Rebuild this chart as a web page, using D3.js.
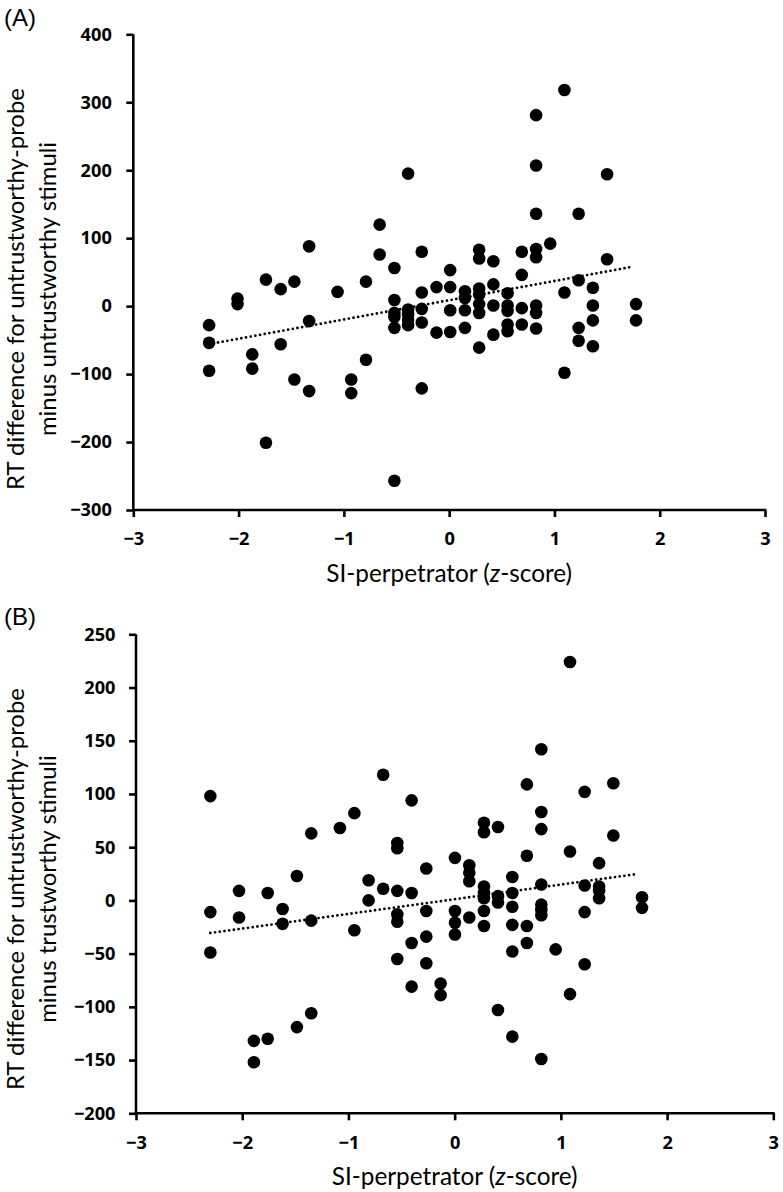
<!DOCTYPE html>
<html>
<head>
<meta charset="utf-8">
<script src="https://cdn.jsdelivr.net/npm/d3@7"></script>
<style>
  html, body { margin: 0; padding: 0; background: #fff; }
  svg { display: block; }
</style>
</head>
<body>
<svg id="chart" width="783" height="1192"></svg>
<script>
// ---------------- DATA ----------------
// Panel A: SI-perpetrator z-score vs RT difference (untrustworthy-probe minus untrustworthy stimuli)
const xA = [
  -2.28,-2.28,-2.28,
  -2.01,-2.01,
  -1.87,-1.87,
  -1.74,-1.74,
  -1.60,-1.60,
  -1.47,-1.47,
  -1.33,-1.33,-1.33,
  -1.06,
  -0.93,-0.93,
  -0.79,-0.79,
  -0.66,-0.66,
  -0.52,-0.52,-0.52,-0.52,-0.52,-0.52,
  -0.39,-0.39,-0.39,-0.39,-0.39,
  -0.26,-0.26,-0.26,-0.26,-0.26,
  -0.12,-0.12,
  0.01,0.01,0.01,0.01,
  0.15,0.15,0.15,0.15,
  0.285,0.285,0.285,0.285,0.285,0.285,0.285,
  0.42,0.42,0.42,0.42,
  0.555,0.555,0.555,0.555,0.555,
  0.69,0.69,0.69,0.69,
  0.826,0.826,0.826,0.826,0.826,0.826,0.826,0.826,
  0.96,
  1.095,1.095,1.095,
  1.23,1.23,1.23,1.23,
  1.365,1.365,1.365,1.365,
  1.50,1.50,
  1.775,1.775
];
const yA = [
  -28,-54,-95,
  11,3,
  -71,-92,
  39,-201,
  25,-56,
  36,-108,
  88,-22,-125,
  21,
  -108,-128,
  36,-79,
  120,76,
  56,9,-10,-16,-32,-257,
  195,-5,-12,-20,-28,
  80,20,-4,-24,-121,
  28,-39,
  53,28,-6,-38,
  22,12,-6,-32,
  83,70,26,17,3,-10,-61,
  66,32,1,-42,
  19,1,-7,-27,-37,
  80,46,-3,-27,
  281,207,136,84,72,1,-10,-33,
  92,
  318,20,-98,
  136,38,-32,-51,
  27,1,-21,-59,
  194,69,
  3,-21
];
// Panel B: SI-perpetrator z-score vs RT difference (untrustworthy-probe minus trustworthy stimuli)
const xB = [
  -2.30,-2.30,-2.30,
  -2.03,-2.03,
  -1.89,-1.89,
  -1.76,-1.76,
  -1.62,-1.62,
  -1.485,-1.485,
  -1.35,-1.35,-1.35,
  -1.08,
  -0.944,-0.944,
  -0.81,-0.81,
  -0.673,-0.673,
  -0.54,-0.54,-0.54,-0.54,-0.54,-0.54,
  -0.405,-0.405,-0.405,-0.405,
  -0.267,-0.267,-0.267,-0.267,
  -0.132,-0.132,
  0.003,0.003,0.003,0.003,
  0.138,0.138,0.138,0.138,
  0.276,0.276,0.276,0.276,0.276,0.276,0.276,
  0.408,0.408,0.408,0.408,
  0.543,0.543,0.543,0.543,0.543,0.543,
  0.68,0.68,0.68,0.68,
  0.816,0.816,0.816,0.816,0.816,0.816,0.816,0.816,
  0.951,
  1.086,1.086,1.086,
  1.224,1.224,1.224,1.224,
  1.36,1.36,1.36,1.36,
  1.494,1.494,
  1.764,1.764
];
const yB = [
  98,-11,-49,
  9,-16,
  -132,-152,
  7,-130,
  -8,-22,
  23,-119,
  63,-19,-106,
  68,
  82,-28,
  19,0,
  118,11,
  54,49,9,-13,-20,-55,
  94,7,-40,-81,
  30,-10,-34,-59,
  -78,-89,
  40,-10,-21,-32,
  33,26,18,-16,
  73,64,13,7,2,-10,-24,
  69,4,-2,-103,
  22,7,-6,-23,-48,-128,
  109,42,-24,-40,
  142,83,67,15,-4,-9,-14,-149,
  -46,
  224,46,-88,
  102,14,-11,-60,
  35,13,9,2,
  110,61,
  3,-7
];
// Linear trend lines (endpoints)
const trendAx = [-2.24, 1.74];
const trendAy = [-54.8, 57.9];
const trendBx = [-2.30, 1.72];
const trendBy = [-30.6, 24.8];

// Tick labels
const xTicks = [-3, -2, -1, 0, 1, 2, 3];
const yTicksA = [-300, -200, -100, 0, 100, 200, 300, 400];
const yTicksB = [-200, -150, -100, -50, 0, 50, 100, 150, 200, 250];

// Text
const panelLabels = ["(A)", "(B)"];
const xTitle = ["SI-perpetrator (", "z", "-score)"];
const yTitleA = ["RT difference for untrustworthy-probe", "minus untrustworthy stimuli"];
const yTitleB = ["RT difference for untrustworthy-probe", "minus trustworthy stimuli"];

// ---------------- DRAW ----------------
const svg = d3.select("#chart");
svg.append("rect").attr("width", 783).attr("height", 1192).attr("fill", "#fff");

const fmt = d => (d < 0 ? "\u2212" + Math.abs(d) : String(d));
const tickFont = "'Open Sans', 'DejaVu Sans', sans-serif";
const titleFont = "Lato, 'Open Sans', sans-serif";

function fitFont(textSel, target, base) {
  const w = textSel.node().getComputedTextLength();
  const fs = base * target / w;
  textSel.attr("font-size", fs);
  return fs;
}

function drawPanel(cfg) {
  const x = d3.scaleLinear().domain([-3, 3]).range(cfg.xRange);
  const y = d3.scaleLinear().domain(cfg.yDomain).range(cfg.yRange);
  const g = svg.append("g");

  // axes
  const ax = g.append("g")
    .attr("transform", `translate(0,${cfg.yRange[0]})`)
    .call(d3.axisBottom(x).tickValues(xTicks).tickFormat(fmt)
      .tickSize(7).tickSizeOuter(0).tickPadding(cfg.xPad));
  const ay = g.append("g")
    .attr("transform", `translate(${cfg.xRange[0]},0)`)
    .call(d3.axisLeft(y).tickValues(cfg.yTicks).tickFormat(fmt)
      .tickSize(7).tickSizeOuter(0).tickPadding(cfg.yPad));
  [ax, ay].forEach(a => {
    a.select(".domain").attr("stroke", "#000").attr("stroke-width", 2.6);
    a.selectAll(".tick line").attr("stroke", "#000").attr("stroke-width", 2.6);
    a.selectAll(".tick text")
      .attr("fill", "#000")
      .attr("font-family", tickFont)
      .attr("font-weight", 700)
      .attr("font-size", 18.2);
  });
  ay.select(".domain").attr("d", `M0,${cfg.yRange[1]}V${cfg.yRange[0] + 1.3}`);
  ax.select(".domain").attr("d", `M${cfg.xRange[0] - 1.3},0H${cfg.xRange[1] + 1.3}`);

  // points
  g.append("g").selectAll("circle")
    .data(d3.range(cfg.xs.length))
    .join("circle")
    .attr("cx", i => x(cfg.xs[i]))
    .attr("cy", i => y(cfg.ys[i]))
    .attr("r", 6.3)
    .attr("fill", "#000");

  // trend line (dotted)
  const line = d3.line().x(d => x(d[0])).y(d => y(d[1]));
  g.append("path")
    .attr("d", line(cfg.tx.map((v, i) => [v, cfg.ty[i]])))
    .attr("fill", "none")
    .attr("stroke", "#000")
    .attr("stroke-width", 2.8)
    .attr("stroke-linecap", "round")
    .attr("stroke-dasharray", "0 4.75");

  // panel label
  g.append("text")
    .attr("x", 4).attr("y", cfg.labelY)
    .attr("font-family", "'Liberation Sans', Arial, sans-serif")
    .attr("font-size", 24)
    .attr("fill", "#000")
    .text(cfg.label);

  // x title
  const xt = g.append("text")
    .attr("x", (cfg.xRange[0] + cfg.xRange[1]) / 2)
    .attr("y", cfg.xTitleY)
    .attr("text-anchor", "middle")
    .attr("font-family", titleFont)
    .attr("font-size", 20)
    .attr("fill", "#000");
  xt.append("tspan").text(xTitle[0]);
  xt.append("tspan").attr("font-style", "italic").text(xTitle[1]);
  xt.append("tspan").text(xTitle[2]);
  fitFont(xt, 246, 20);

  // y title (two lines, rotated)
  const l1 = g.append("text")
    .attr("transform", `translate(${cfg.yTitleX[0]},${cfg.yTitleCy}) rotate(-90)`)
    .attr("text-anchor", "middle")
    .attr("font-family", titleFont)
    .attr("font-size", 20)
    .attr("fill", "#000")
    .text(cfg.yTitle[0]);
  const fs = fitFont(l1, 402, 20);
  g.append("text")
    .attr("transform", `translate(${cfg.yTitleX[1]},${cfg.yTitleCy}) rotate(-90)`)
    .attr("text-anchor", "middle")
    .attr("font-family", titleFont)
    .attr("font-size", fs)
    .attr("fill", "#000")
    .text(cfg.yTitle[1]);
}

drawPanel({
  xRange: [133.3, 765], yDomain: [-300, 400], yRange: [510, 34.3],
  yTicks: yTicksA, xs: xA, ys: yA, tx: trendAx, ty: trendAy,
  xPad: 15, yPad: 14.5, label: panelLabels[0], labelY: 26,
  xTitleY: 582, yTitle: yTitleA, yTitleX: [24, 56], yTitleCy: 289
});
drawPanel({
  xRange: [136, 773.3], yDomain: [-200, 250], yRange: [1113.3, 634.3],
  yTicks: yTicksB, xs: xB, ys: yB, tx: trendBx, ty: trendBy,
  xPad: 16, yPad: 13.5, label: panelLabels[1], labelY: 625,
  xTitleY: 1185, yTitle: yTitleB, yTitleX: [24, 56], yTitleCy: 889
});
</script>
</body>
</html>
